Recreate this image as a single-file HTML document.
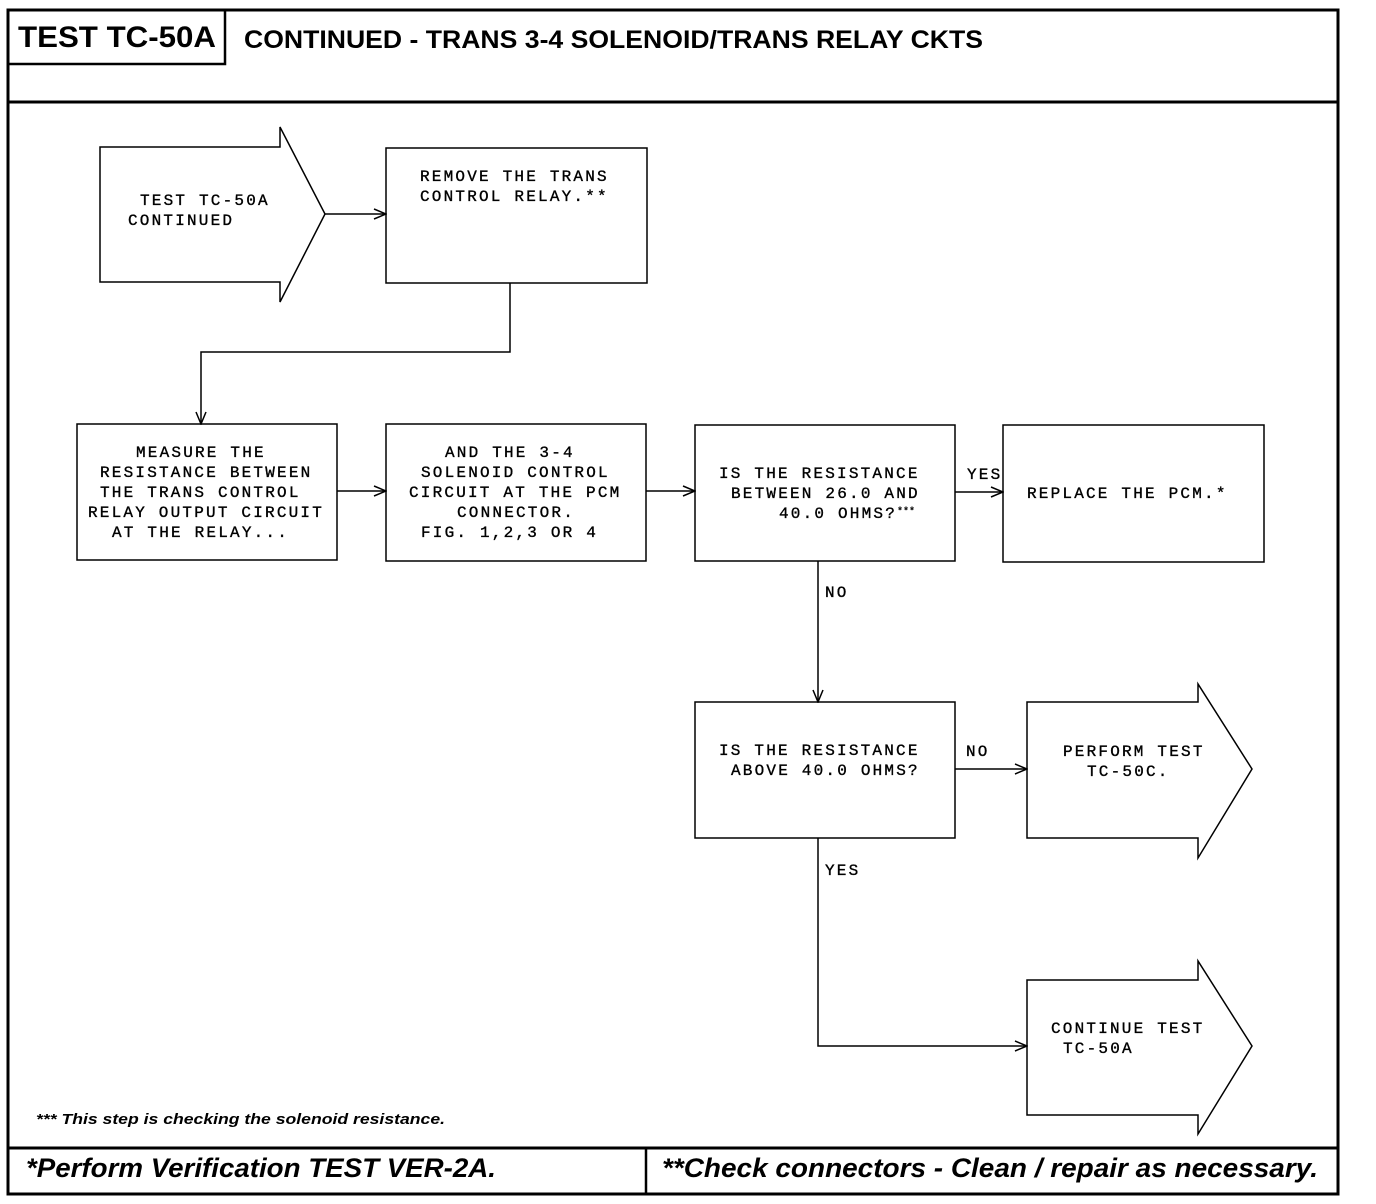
<!DOCTYPE html>
<html><head><meta charset="utf-8"><style>
html,body{margin:0;padding:0;background:#fff;width:1376px;height:1204px;overflow:hidden}
svg{display:block}
.m{font-family:"Liberation Mono",monospace;font-size:16px;letter-spacing:2.2px;fill:#000;stroke:#000;stroke-width:0.35}
</style></head><body>
<svg width="1376" height="1204" viewBox="0 0 1376 1204" xmlns="http://www.w3.org/2000/svg">
<defs><marker id="a" markerWidth="14" markerHeight="12" refX="13" refY="6" orient="auto" markerUnits="userSpaceOnUse"><path d="M1,1 L13,6 L1,11" fill="none" stroke="#000" stroke-width="1.5"/></marker></defs>
<g fill="none" stroke="#000">
<rect x="8" y="10" width="1330" height="1184" stroke-width="3"/>
<line x1="8" y1="102" x2="1338" y2="102" stroke-width="3"/>
<rect x="8" y="10" width="217" height="54" stroke-width="2.5"/>
<line x1="8" y1="1148" x2="1338" y2="1148" stroke-width="3"/>
<line x1="646" y1="1148" x2="646" y2="1194" stroke-width="2.5"/>
<g stroke-width="1.5">
<path d="M100,147 H280 V127 L325,214 L280,302 V282 H100 Z"/>
<rect x="386" y="148" width="261" height="135"/>
<rect x="77" y="424" width="260" height="136"/>
<rect x="386" y="424" width="260" height="137"/>
<rect x="695" y="425" width="260" height="136"/>
<rect x="1003" y="425" width="261" height="137"/>
<rect x="695" y="702" width="260" height="136"/>
<path d="M1027,702 H1198 V684 L1252,769 L1198,858 V838 H1027 Z"/>
<path d="M1027,980 H1198 V961 L1252,1046 L1198,1134 V1115 H1027 Z"/>
<line x1="325" y1="214" x2="386" y2="214" marker-end="url(#a)"/>
<polyline points="510,283 510,352 201,352 201,424" marker-end="url(#a)"/>
<line x1="337" y1="491" x2="386" y2="491" marker-end="url(#a)"/>
<line x1="646" y1="491" x2="695" y2="491" marker-end="url(#a)"/>
<line x1="955" y1="492" x2="1003" y2="492" marker-end="url(#a)"/>
<line x1="818" y1="561" x2="818" y2="702" marker-end="url(#a)"/>
<line x1="955" y1="769" x2="1027" y2="769" marker-end="url(#a)"/>
<polyline points="818,838 818,1046 1027,1046" marker-end="url(#a)"/>
</g></g>
<text x="18" y="47" font-family="Liberation Sans,sans-serif" font-weight="bold" font-size="30" textLength="198" lengthAdjust="spacingAndGlyphs">TEST TC-50A</text>
<text x="244" y="48" font-family="Liberation Sans,sans-serif" font-weight="bold" font-size="25" textLength="739" lengthAdjust="spacingAndGlyphs">CONTINUED - TRANS 3-4 SOLENOID/TRANS RELAY CKTS</text>
<text x="26" y="1177" font-family="Liberation Sans,sans-serif" font-weight="bold" font-style="italic" font-size="27" textLength="470" lengthAdjust="spacingAndGlyphs">*Perform Verification TEST VER-2A.</text>
<text x="662" y="1177" font-family="Liberation Sans,sans-serif" font-weight="bold" font-style="italic" font-size="27" textLength="656" lengthAdjust="spacingAndGlyphs">**Check connectors - Clean / repair as necessary.</text>
<text x="36" y="1124" font-family="Liberation Sans,sans-serif" font-weight="bold" font-style="italic" font-size="15" textLength="409" lengthAdjust="spacingAndGlyphs">*** This step is checking the solenoid resistance.</text>
<g class="m">
<text x="140" y="205">TEST TC-50A</text>
<text x="128" y="225">CONTINUED</text>
<text x="420" y="181">REMOVE THE TRANS</text>
<text x="420" y="201">CONTROL RELAY.**</text>
<text x="136" y="457">MEASURE THE</text>
<text x="100" y="477">RESISTANCE BETWEEN</text>
<text x="100" y="497">THE TRANS CONTROL</text>
<text x="88" y="517">RELAY OUTPUT CIRCUIT</text>
<text x="112" y="537">AT THE RELAY...</text>
<text x="445" y="457">AND THE 3-4</text>
<text x="421" y="477">SOLENOID CONTROL</text>
<text x="409" y="497">CIRCUIT AT THE PCM</text>
<text x="457" y="517">CONNECTOR.</text>
<text x="421" y="537">FIG. 1,2,3 OR 4</text>
<text x="719" y="478">IS THE RESISTANCE</text>
<text x="731" y="498">BETWEEN 26.0 AND</text>
<text x="779" y="518">40.0 OHMS?</text>
<text x="897" y="514" style="font-size:10px;letter-spacing:0">***</text>
<text x="967" y="479">YES</text>
<text x="1027" y="498">REPLACE THE PCM.*</text>
<text x="825" y="597">NO</text>
<text x="719" y="755">IS THE RESISTANCE</text>
<text x="731" y="775">ABOVE 40.0 OHMS?</text>
<text x="966" y="756">NO</text>
<text x="1063" y="756">PERFORM TEST</text>
<text x="1087" y="776">TC-50C.</text>
<text x="825" y="875">YES</text>
<text x="1051" y="1033">CONTINUE TEST</text>
<text x="1063" y="1053">TC-50A</text>
</g>
</svg>
</body></html>
